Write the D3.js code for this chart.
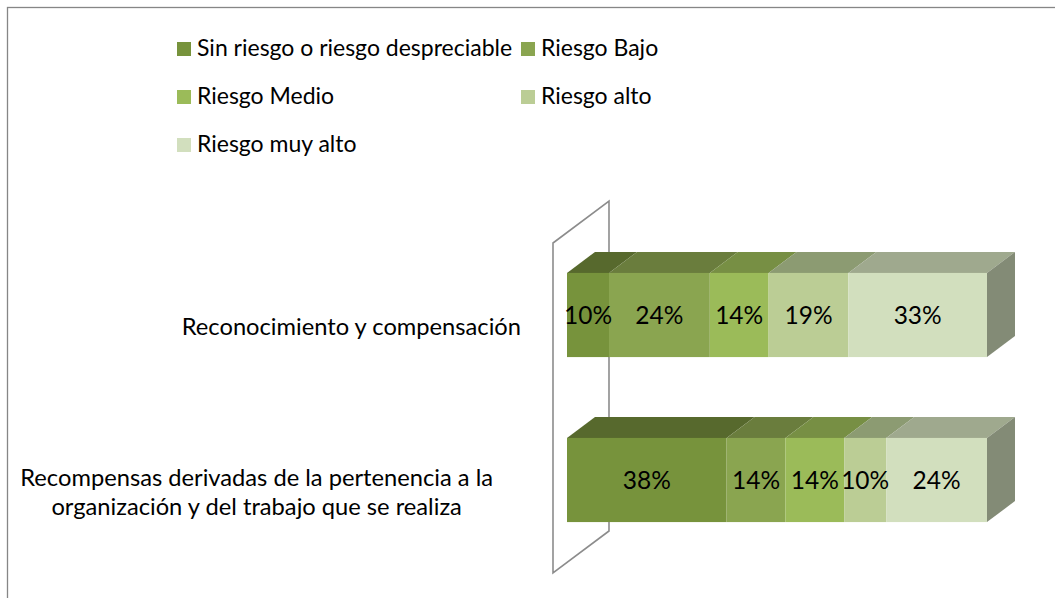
<!DOCTYPE html>
<html lang="es">
    <head>
        <meta charset="utf-8">
        <title>Recompensas - niveles de riesgo</title>
        <script src="https://d3js.org/d3.v7.min.js"></script>
        <style type="text/css">
            body { margin: 0; background: #fff; }
            text { font-family: Lato, "Open Sans", sans-serif; fill: #000; }
        </style>
    </head>
    <body>
        <script type="text/javascript">

            const svgW = 1055;
            const svgH = 598;

            // data
            const categories = [
                "Reconocimiento y compensación",
                "Recompensas derivadas de la pertenencia a la organización y del trabajo que se realiza"
            ];
            const categoryLines = [
                ["Reconocimiento y compensación"],
                ["Recompensas derivadas de la pertenencia a la", "organización y del trabajo que se realiza"]
            ];
            const seriesNames = ["Sin riesgo o riesgo despreciable", "Riesgo Bajo", "Riesgo Medio", "Riesgo alto", "Riesgo muy alto"];
            const sinRiesgo = [10, 38];
            const riesgoBajo = [24, 14];
            const riesgoMedio = [14, 14];
            const riesgoAlto = [19, 10];
            const riesgoMuyAlto = [33, 24];
            const seriesValues = [sinRiesgo, riesgoBajo, riesgoMedio, riesgoAlto, riesgoMuyAlto];

            const frontColors = ["#77933c", "#8aa550", "#9bbb59", "#bbcd95", "#d2dfbe"];
            const topColors = ["#57692d", "#6a7d3d", "#778f44", "#8c9b72", "#9fa98e"];
            const sideColor = "#838b76";

            // depth of the 3D bars
            const dx = 28, dy = -21;

            const xScale = d3.scaleLinear()
                             .domain([0, 100])
                             .range([567, 987]);

            const yScale = d3.scaleBand()
                             .domain(categories)
                             .range([232.5, 562.5])
                             .padding(0);

            const barH = yScale.bandwidth() * 0.51;

            const svg = d3.select("body")
                    .append("svg")
                    .attr("width", svgW)
                    .attr("height", svgH);

            // chart frame (runs off the picture)
            svg.append("rect")
               .attr("x", 7.5).attr("y", 7.5)
               .attr("width", 1200).attr("height", 800)
               .attr("fill", "none")
               .attr("stroke", "#868686")
               .attr("stroke-width", 1.3);

            // back wall of the vertical axis
            const wx = xScale(0) - dx / 2;
            const wTop = yScale.range()[0] - dy / 2;
            const wBot = yScale.range()[1] - dy / 2;
            svg.append("path")
               .attr("d", d3.line()([[wx, wTop], [wx + 2 * dx, wTop + 2 * dy], [wx + 2 * dx, wBot + 2 * dy], [wx, wBot]]) + "Z")
               .attr("fill", "none")
               .attr("stroke", "#8c8c8c")
               .attr("stroke-width", 1.6);

            // stacked rows
            const rows = categories.map((c, i) => {
                let acc = 0;
                return seriesValues.map((s, k) => {
                    const seg = {cat: c, k: k, v: s[i], x0: acc, x1: acc + s[i]};
                    acc += s[i];
                    return seg;
                });
            });

            const bars = svg.selectAll("g.bar")
                .data(rows)
                .enter()
                .append("g")
                .attr("class", "bar");

            const quad = pts => d3.line()(pts) + "Z";

            bars.each(function(row) {
                const g = d3.select(this);
                const yT = yScale(row[0].cat) + (yScale.bandwidth() - barH) / 2;
                const yB = yT + barH;

                g.selectAll("path.top")
                 .data(row)
                 .enter()
                 .append("path")
                 .attr("class", "top")
                 .attr("d", d => quad([[xScale(d.x0), yT], [xScale(d.x1), yT], [xScale(d.x1) + dx, yT + dy], [xScale(d.x0) + dx, yT + dy]]))
                 .attr("fill", d => topColors[d.k]);

                g.selectAll("rect.front")
                 .data(row)
                 .enter()
                 .append("rect")
                 .attr("class", "front")
                 .attr("x", d => xScale(d.x0))
                 .attr("y", yT)
                 .attr("width", d => xScale(d.x1) - xScale(d.x0))
                 .attr("height", barH)
                 .attr("fill", d => frontColors[d.k]);

                const last = row[row.length - 1];
                g.append("path")
                 .attr("d", quad([[xScale(last.x1), yT], [xScale(last.x1) + dx, yT + dy], [xScale(last.x1) + dx, yB + dy], [xScale(last.x1), yB]]))
                 .attr("fill", sideColor);

                g.selectAll("text.val")
                 .data(row)
                 .enter()
                 .append("text")
                 .attr("class", "val")
                 .attr("x", d => (xScale(d.x0) + xScale(d.x1)) / 2)
                 .attr("y", (yT + yB) / 2 + 3)
                 .attr("text-anchor", "middle")
                 .attr("dominant-baseline", "middle")
                 .style("font-size", "24.5px")
                 .text(d => d.v + "%");
            });

            // category labels
            const labelRight = xScale(0) - 46;
            categories.forEach((c, i) => {
                const lines = categoryLines[i];
                const lineH = 29;
                const cy = yScale(c) + yScale.bandwidth() / 2 + 14;
                const t = svg.append("g").attr("class", "cat");
                const texts = t.selectAll("text")
                    .data(lines)
                    .enter()
                    .append("text")
                    .attr("y", (d, j) => cy + (j - (lines.length - 1) / 2) * lineH)
                    .attr("dominant-baseline", "middle")
                    .style("font-size", "23.7px")
                    .text(d => d);
                let maxW = 0;
                texts.each(function() { maxW = Math.max(maxW, this.getComputedTextLength()); });
                const right = lines.length > 1 ? labelRight - dx : labelRight;
                texts.attr("x", right - maxW / 2).attr("text-anchor", "middle");
            });

            // legend
            const legX = [177, 521];
            const legY = d3.scalePoint().domain([0, 1, 2]).range([49, 145]);
            const leg = svg.selectAll("g.leg")
                .data(seriesNames)
                .enter()
                .append("g")
                .attr("class", "leg")
                .attr("transform", (d, i) => "translate(" + legX[i % 2] + "," + legY(Math.floor(i / 2)) + ")");
            leg.append("rect")
               .attr("x", 0).attr("y", -7)
               .attr("width", 14).attr("height", 14)
               .attr("fill", (d, i) => frontColors[i]);
            leg.append("text")
               .attr("x", 20).attr("y", 1)
               .attr("dominant-baseline", "middle")
               .style("font-size", "23px")
               .text(d => d);

        </script>
    </body>
</html>
